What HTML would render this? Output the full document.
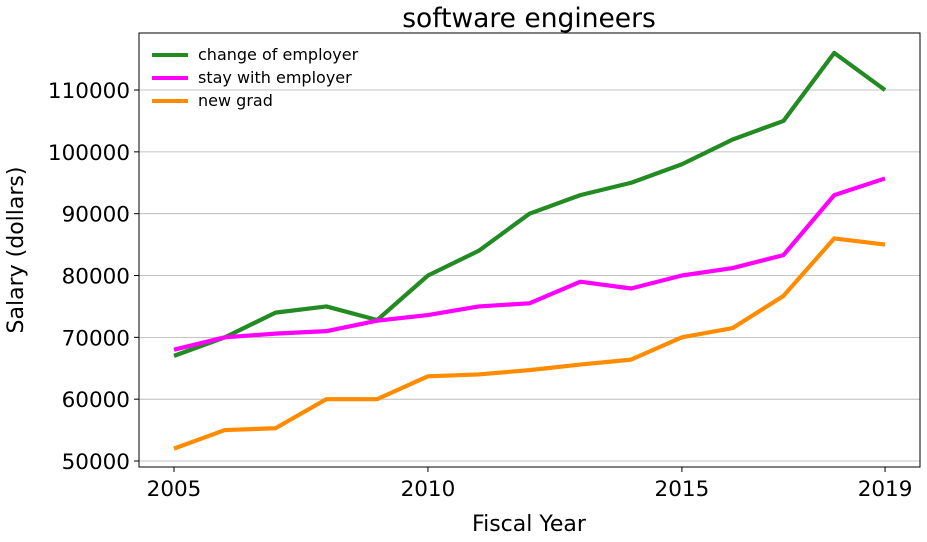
<!DOCTYPE html>
<html><head><style>body{margin:0;background:#fff}svg{display:block}text{font-family:"DejaVu Sans",sans-serif}</style></head>
<body>
<svg id="s" width="927" height="542" xmlns="http://www.w3.org/2000/svg">
<text x="529" y="27" font-size="26.5" text-anchor="middle">software engineers</text>
<g id="grid"></g>
<rect x="139" y="33" width="781" height="434" fill="none" stroke="#000" stroke-width="1"/>
<g id="lines"></g>
<text x="529" y="531" font-size="22" text-anchor="middle">Fiscal Year</text>
<text transform="translate(23,250) rotate(-90)" font-size="22" text-anchor="middle">Salary (dollars)</text>
<g font-size="16">
<line x1="152" y1="55" x2="188" y2="55" stroke="#228b22" stroke-width="4"/><text x="198" y="60">change of employer</text>
<line x1="152" y1="78" x2="188" y2="78" stroke="#ff00ff" stroke-width="4"/><text x="198" y="83">stay with employer</text>
<line x1="152" y1="101" x2="188" y2="101" stroke="#ff8c00" stroke-width="4"/><text x="198" y="106">new grad</text>
</g>
</svg>
<script>
function Y(v){return 461-(v-50000)/10000*61.83}
function X(yr){return 174+(yr-2005)*50.79}
var g=document.getElementById("grid"),h="";
for(var v=50000;v<=110000;v+=10000){var y=Y(v);
h+='<line x1="139" x2="920" y1="'+y+'" y2="'+y+'" stroke="#b0b0b0" stroke-width="0.8"/>';
h+='<line x1="134" x2="139" y1="'+y+'" y2="'+y+'" stroke="#000"/>';
h+='<text x="130" y="'+(y+8)+'" font-size="21.5" text-anchor="end">'+v+'</text>';}
[2005,2010,2015,2019].forEach(function(yr){var x=X(yr);
h+='<line x1="'+x+'" x2="'+x+'" y1="467" y2="472" stroke="#000"/>';
h+='<text x="'+x+'" y="496" font-size="21.5" text-anchor="middle">'+yr+'</text>';});
g.innerHTML=h;
var d=[["#228b22",[67000,70000,74000,75000,72800,80000,84000,90000,93000,95000,98000,102000,105000,116000,110000]],
["#ff00ff",[68000,70000,70600,71000,72700,73600,75000,75500,79000,77900,80000,81200,83300,93000,95700]],
["#ff8c00",[52000,55000,55300,60000,60000,63700,64000,64700,65600,66400,70000,71500,76700,86000,85000]]];
var L="";d.forEach(function(s){L+='<polyline fill="none" stroke-width="4.2" stroke-linejoin="round" stroke="'+s[0]+'" points="'+s[1].map(function(v,i){return X(2005+i)+","+Y(v)}).join(" ")+'"/>';});
document.getElementById("lines").innerHTML=L;
</script>
</body></html>
